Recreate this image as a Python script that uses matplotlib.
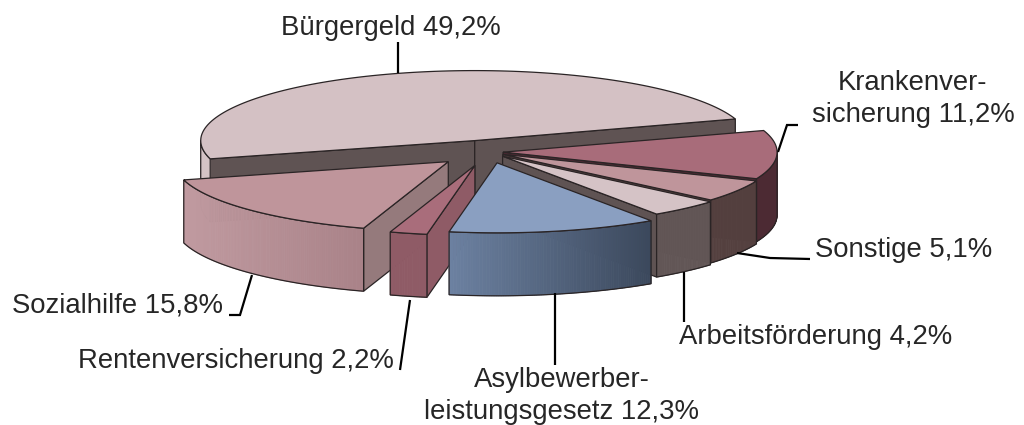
import numpy as np
import matplotlib
matplotlib.use('Agg')
import matplotlib.pyplot as plt
from matplotlib.patches import Polygon
from matplotlib.colors import to_rgb

plt.rcParams['font.family'] = ['Liberation Sans', 'DejaVu Sans']

# Reihenfolge im Uhrzeigersinn, Start am rechten Rand von Buergergeld
labels = ['Krankenver-\nsicherung 11,2%', 'Sonstige 5,1%', 'Arbeitsförderung 4,2%',
          'Asylbewerber-\nleistungsgesetz 12,3%', 'Rentenversicherung 2,2%',
          'Sozialhilfe 15,8%', 'Bürgergeld 49,2%']
values = [11.2, 5.1, 4.2, 12.3, 2.2, 15.8, 49.2]
explode = [0.055, 0.064, 0.08, 0.158, 0.197, 0.2, 0.17]
top_colors = ['#a86c7a', '#bf959b', '#d5c3c6', '#8a9fc1', '#a96d7b', '#bf959b', '#d4c1c4']
arc_left = ['#4c2a33', '#54403f', '#625656', '#6c81a1', '#8f5b66', '#c09aa0', '#d5c3c5']
arc_right = ['#4c2a33', '#54403f', '#625656', '#3b485c', '#8f5b66', '#a98288', '#d5c3c5']
wall_colors = ['#4c2a33', '#54403f', '#5f5353', '#3b485c', '#8f5b66', '#957a7c', '#5f5353']
draw_order = [6, 0, 1, 2, 5, 4, 3]

label_pos = [(913, 99), (904, 250), (816, 337), (562, 396), (236, 361), (117, 306), (391, 28)]
leaders = [[(778, 152), (787, 125), (798, 125)],
           [(737, 253), (770, 258), (810, 259)],
           [(684, 272), (684, 322)],
           [(555, 293), (555, 365)],
           [(410, 300), (400, 370)],
           [(252, 275), (240, 315), (229, 315)],
           [(398, 73), (398, 42)]]

cx, cy = 488, 152
a, b = 274, 70
depth = 63
start = -18
edge = '#2a2425'

fig = plt.figure(figsize=(10.24, 4.25), dpi=100)
ax = fig.add_axes([0, 0, 1, 1])
ax.set_xlim(0, 1024)
ax.set_ylim(425, 0)
ax.axis('off')


def rim(x0, y0, t):
    t = np.radians(t)
    return np.column_stack([x0 + a * np.cos(t), y0 + b * np.sin(t)])


def draw_slice(i, t1, t2):
    mid = np.radians((t1 + t2) / 2)
    x0 = cx + explode[i] * a * np.cos(mid)
    y0 = cy + explode[i] * b * np.sin(mid)

    # Seitenwaende an den Schnittkanten, nur wenn sie nach vorne zeigen
    for t, sign in ((t1, -1), (t2, 1)):
        r = np.radians(t)
        if sign * np.cos(r) > 0:
            p = rim(x0, y0, [t])[0]
            ax.add_patch(Polygon([(x0, y0), p, (p[0], p[1] + depth), (x0, y0 + depth)],
                                 closed=True, fc=wall_colors[i], ec=edge, lw=0.9))

    # Aussenwand, Verlauf von links nach rechts
    lo = max(t1, 0)
    hi = min(t2, 180)
    if hi > lo:
        ts = np.linspace(lo, hi, int(hi - lo) * 2 + 2)
        pts = rim(x0, y0, ts)
        xmin, xmax = pts[:, 0].min(), pts[:, 0].max()
        cl, cr = np.array(to_rgb(arc_left[i])), np.array(to_rgb(arc_right[i]))
        for k in range(len(ts) - 1):
            f = ((pts[k, 0] + pts[k + 1, 0]) / 2 - xmin) / (xmax - xmin)
            c = cl + (cr - cl) * f
            ax.add_patch(Polygon([pts[k], pts[k + 1], pts[k + 1] + (0, depth), pts[k] + (0, depth)],
                                 closed=True, fc=c, ec=c, lw=0.6))
        outline = np.vstack([pts, (pts + (0, depth))[::-1]])
        ax.add_patch(Polygon(outline, closed=True, fill=False, ec=edge, lw=0.9))

    # Oberseite
    top = np.vstack([[x0, y0], rim(x0, y0, np.linspace(t1, t2, 120))])
    ax.add_patch(Polygon(top, closed=True, fc=top_colors[i], ec=edge, lw=0.9))


angles = start + np.concatenate([[0], np.cumsum(values)]) * 3.6
for i in draw_order:
    draw_slice(i, angles[i], angles[i + 1])

for line in leaders:
    xs, ys = zip(*line)
    ax.plot(xs, ys, color='black', lw=1.6, solid_capstyle='butt', solid_joinstyle='miter')

for lab, (x, y) in zip(labels, label_pos):
    ax.text(x, y, lab, ha='center', va='center', fontsize=19.8, color='#262626', linespacing=1.26)

fig.savefig('out.png', dpi=100)
